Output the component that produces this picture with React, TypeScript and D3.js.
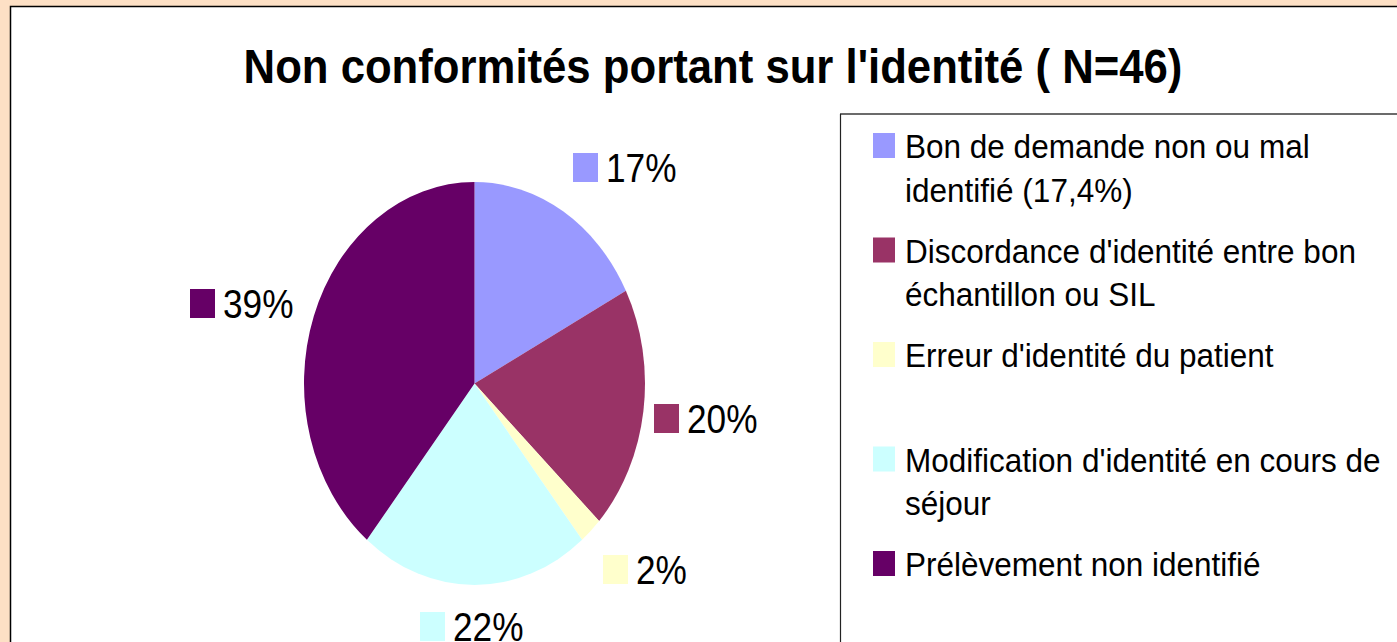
import React from "react";
import * as d3 from "d3";

const categories = [
  "Bon de demande non ou mal identifié (17,4%)",
  "Discordance d'identité entre bon échantillon ou SIL",
  "Erreur d'identité du patient",
  "Modification d'identité en cours de séjour",
  "Prélèvement non identifié",
];
const legendLines = [
  ["Bon de demande non ou mal", "identifié (17,4%)"],
  ["Discordance d'identité entre bon", "échantillon ou SIL"],
  ["Erreur d'identité du patient"],
  ["Modification d'identité en cours de", "séjour"],
  ["Prélèvement non identifié"],
];
const counts = [8, 9, 1, 10, 18];
const percentLabels = ["17%", "20%", "2%", "22%", "39%"];
const colors = ["#9999FF", "#993366", "#FFFFCC", "#CCFFFF", "#660066"];
const title = "Non conformités portant sur l'identité ( N=46)";

// label anchor positions (box left, baseline) per slice
const labelPos: [number, number][] = [
  [573, 182],
  [654, 433],
  [603, 584],
  [420, 641],
  [190, 318],
];

export default function App() {
  const W = 1397;
  const H = 642;
  const cx = 474.5;
  const cy = 383.5;
  const R = 201.5;
  const rx = 170.5;
  const sx = rx / R;

  const pie = d3.pie<number>().sort(null).value((d) => d)(counts);
  const arc = d3.arc<d3.PieArcDatum<number>>().innerRadius(0).outerRadius(R);

  const legendX = 873;
  const legendBase = 158;
  const legendStep = 104.5;
  const lineH = 43.5;

  return (
    <svg
      width={W}
      height={H}
      style={{ position: "absolute", left: 0, top: 0, display: "block" }}
      fontFamily="'Liberation Sans', Arial, sans-serif"
    >
      <rect x={0} y={0} width={W} height={H} fill="#FDE0C5" />
      <rect x={10.5} y={6.5} width={W + 20} height={H + 20} fill="#FFFFFF" stroke="#000" strokeWidth={1.5} />
      <text
        x={713}
        y={83.5}
        textAnchor="middle"
        fontWeight="bold"
        fontSize={49}
        fill="#000"
        transform={`translate(713,0) scale(0.892,1) translate(-713,0)`}
      >
        {title}
      </text>

      <g transform={`translate(${cx},${cy}) scale(${sx},1)`}>
        {pie.map((p, i) => (
          <path key={i} d={arc(p) || ""} fill={colors[i]} />
        ))}
      </g>

      {pie.map((p, i) => {
        const [bx, by] = labelPos[i];
        return (
          <g key={"l" + i}>
            <rect x={bx} y={by - 29} width={25} height={29} fill={colors[i]} />
            <text
              x={0}
              y={0}
              fontSize={41}
              fill="#000"
              transform={`translate(${bx + 33},${by}) scale(0.86,1)`}
            >
              {percentLabels[i]}
            </text>
          </g>
        );
      })}

      <line x1={840} y1={114} x2={W + 10} y2={114} stroke="#6b6b6b" strokeWidth={2} />
      <line x1={840.5} y1={114} x2={840.5} y2={H + 10} stroke="#222" strokeWidth={1.2} />

      {categories.map((c, i) => {
        const base = legendBase + i * legendStep;
        return (
          <g key={"lg" + i}>
            <rect x={legendX} y={base - 25} width={22} height={25} fill={colors[i]} />
            {legendLines[i].map((ln, j) => (
              <text
                key={j}
                x={0}
                y={0}
                fontSize={32.5}
                fill="#000"
                transform={`translate(${legendX + 32},${base + j * lineH}) scale(0.97,1)`}
              >
                {ln}
              </text>
            ))}
          </g>
        );
      })}
    </svg>
  );
}
